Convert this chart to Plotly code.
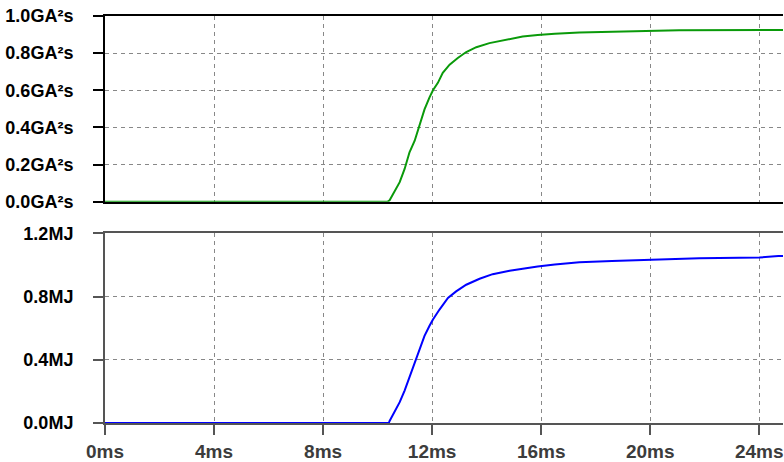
import plotly.graph_objects as go
from plotly.subplots import make_subplots

# Top trace: integral of I^2 (GA^2s) vs time (ms)
t_top = [0, 10.37, 10.44, 10.62, 10.81, 10.99, 11.17, 11.36, 11.54, 11.72, 11.90, 12.03,
         12.21, 12.39, 12.64, 12.94, 13.25, 13.62, 14.10, 14.71, 15.32, 15.87, 16.5,
         17.4, 18.6, 20.0, 21.06, 24.7, 25.5]
v_top = [0, 0, 0.007, 0.052, 0.105, 0.176, 0.266, 0.328, 0.408, 0.497, 0.56, 0.60,
         0.64, 0.694, 0.738, 0.774, 0.806, 0.832, 0.854, 0.872, 0.889, 0.897, 0.905,
         0.911, 0.916, 0.92, 0.923, 0.925, 0.925]

# Bottom trace: energy (MJ) vs time (ms)
t_bot = [0, 10.41, 10.44, 10.62, 10.81, 10.99, 11.17, 11.36, 11.54, 11.72, 11.90, 12.03,
         12.27, 12.58, 12.88, 13.25, 13.74, 14.22, 14.84, 15.45, 15.87, 16.5, 17.4,
         18.6, 20.0, 21.8, 24.0, 24.7, 25.5]
v_bot = [0, 0, 0.013, 0.069, 0.132, 0.205, 0.289, 0.373, 0.467, 0.551, 0.614, 0.655,
         0.718, 0.791, 0.833, 0.875, 0.913, 0.942, 0.963, 0.98, 0.99, 1.003, 1.018,
         1.026, 1.034, 1.043, 1.047, 1.057, 1.06]

x_ticks = [0, 4, 8, 12, 16, 20, 24]
x_labels = ["0ms", "4ms", "8ms", "12ms", "16ms", "20ms", "24ms"]
top_ticks = [0, 0.2, 0.4, 0.6, 0.8, 1.0]
top_labels = ["0.0GA²s", "0.2GA²s", "0.4GA²s", "0.6GA²s", "0.8GA²s", "1.0GA²s"]
bot_ticks = [0, 0.4, 0.8, 1.2]
bot_labels = ["0.0MJ", "0.4MJ", "0.8MJ", "1.2MJ"]

fig = make_subplots(rows=2, cols=1, shared_xaxes=False)
fig.add_trace(go.Scatter(x=t_top, y=v_top, mode="lines",
                         line=dict(color="#0a9a0a", width=2)), row=1, col=1)
fig.add_trace(go.Scatter(x=t_bot, y=v_bot, mode="lines",
                         line=dict(color="#0000ff", width=2)), row=2, col=1)

font = dict(family="Liberation Sans, Arial, sans-serif", size=18, color="#000000", weight="bold")
xfont = dict(family="Liberation Sans, Arial, sans-serif", size=19, color="#3c3c3c", weight="bold")

common_x = dict(range=[0, 24.87], tickvals=x_ticks, showgrid=True, gridcolor="#888888",
                griddash="4px,4px", gridwidth=1, zeroline=False, showline=True,
                linewidth=2, mirror=True, layer="below traces")

fig.update_xaxes(**common_x, linecolor="#000000", showticklabels=False, ticks="",
                 row=1, col=1)
fig.update_xaxes(**common_x, linecolor="#555555", ticks="outside", ticklen=10, tickwidth=2,
                 tickcolor="#555555", ticktext=x_labels, tickfont=xfont,
                 ticklabeloverflow="allow", row=2, col=1)

fig.update_yaxes(range=[0, 1.0], tickvals=top_ticks, ticktext=top_labels, showgrid=True,
                 gridcolor="#888888", griddash="4px,4px", gridwidth=1, zeroline=False,
                 showline=True, linecolor="#000000", linewidth=2, ticks="outside",
                 ticklen=10, tickwidth=2, tickcolor="#000000", tickfont=font,
                 ticklabelstandoff=16, layer="below traces", row=1, col=1)
fig.update_yaxes(range=[0, 1.2], tickvals=bot_ticks, ticktext=bot_labels, showgrid=True,
                 gridcolor="#888888", griddash="4px,4px", gridwidth=1, zeroline=False,
                 showline=True, linecolor="#555555", linewidth=2, ticks="outside",
                 ticklen=10, tickwidth=2, tickcolor="#555555", tickfont=font,
                 ticklabelstandoff=16, layer="below traces", row=2, col=1)

fig.update_layout(
    width=784, height=462,
    margin=dict(l=105, r=0, t=16, b=36),
    paper_bgcolor="white", plot_bgcolor="white",
    showlegend=False,
)
fig.layout.yaxis.domain = [0.5439, 1.0]
fig.layout.yaxis2.domain = [0.0, 0.4659]

fig.write_html("out.html")
